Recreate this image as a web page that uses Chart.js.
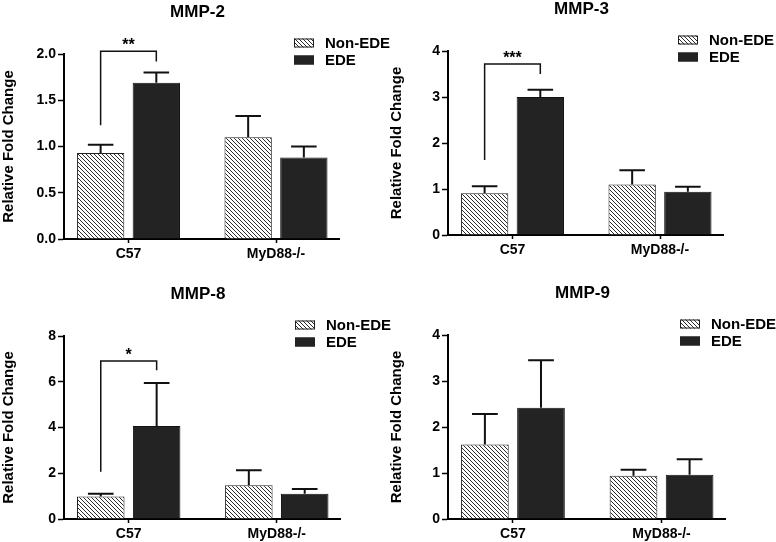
<!DOCTYPE html>
<html>
<head>
<meta charset="utf-8">
<title>MMP relative fold change</title>
<script src="https://cdn.jsdelivr.net/npm/chart.js@4/dist/chart.umd.min.js"></script>
<style>
  body { margin: 0; background: #fff; }
  #wrap { position: relative; width: 776px; height: 542px; background: #fff; }
  #wrap canvas { position: absolute; }
</style>
</head>
<body>
<div id="wrap">
  <canvas id="mmp2" width="392" height="270" style="left:0;top:0"></canvas>
  <canvas id="mmp3" width="388" height="270" style="left:388px;top:0"></canvas>
  <canvas id="mmp8" width="392" height="272" style="left:0;top:270px"></canvas>
  <canvas id="mmp9" width="388" height="272" style="left:388px;top:270px"></canvas>
</div>
<script>
// --- data ---
const groups = ["C57", "MyD88-/-"];
const seriesNames = ["Non-EDE", "EDE"];
const yTitle = "Relative Fold Change";

const mmp2NonEde = [0.93, 1.10];
const mmp2NonEdeErr = [0.09, 0.23];
const mmp2Ede = [1.69, 0.88];
const mmp2EdeErr = [0.11, 0.12];
const mmp2Ticks = [0, 0.5, 1.0, 1.5, 2.0];

const mmp3NonEde = [0.91, 1.10];
const mmp3NonEdeErr = [0.15, 0.31];
const mmp3Ede = [3.00, 0.94];
const mmp3EdeErr = [0.16, 0.11];
const mmp3Ticks = [0, 1, 2, 3, 4];

const mmp8NonEde = [0.98, 1.48];
const mmp8NonEdeErr = [0.12, 0.65];
const mmp8Ede = [4.07, 1.10];
const mmp8EdeErr = [1.88, 0.21];
const mmp8Ticks = [0, 2, 4, 6, 8];

const mmp9NonEde = [1.62, 0.94];
const mmp9NonEdeErr = [0.66, 0.13];
const mmp9Ede = [2.42, 0.96];
const mmp9EdeErr = [1.03, 0.34];
const mmp9Ticks = [0, 1, 2, 3, 4];

// significance brackets: [label, left leg start, top, right leg end] in y units
const mmp2Sig = ["**", 1.23, 2.03, 1.92];
const mmp3Sig = ["***", 1.63, 3.72, 3.50];
const mmp8Sig = ["*", 2.07, 6.91, 6.50];

const FONT = "'Liberation Sans', Arial, sans-serif";
Chart.defaults.font.family = FONT;
Chart.defaults.font.weight = "bold";
Chart.defaults.color = "#000";

function hatchPattern() {
  const c = document.createElement("canvas");
  c.width = 4; c.height = 4;
  const g = c.getContext("2d");
  g.fillStyle = "#fff";
  g.fillRect(0, 0, 4, 4);
  g.strokeStyle = "#2a2a2a";
  g.lineWidth = 1;
  g.beginPath();
  g.moveTo(-1, -1); g.lineTo(5, 5);
  g.moveTo(-1, 3); g.lineTo(1, 5);
  g.moveTo(3, -1); g.lineTo(5, 1);
  g.stroke();
  return g.createPattern(c, "repeat");
}

// error bars, bracket, legend and title
const extras = {
  id: "extras",
  afterDatasetsDraw(chart, args, opts) {
    const ctx = chart.ctx, ys = chart.scales.y, area = chart.chartArea;
    ctx.save();
    ctx.strokeStyle = "#111";
    ctx.lineWidth = 2;
    chart.data.datasets.forEach((ds, i) => {
      chart.getDatasetMeta(i).data.forEach((bar, j) => {
        const top = ys.getPixelForValue(ds.data[j].y + ds.errors[j]);
        const half = bar.width * 0.27;
        ctx.beginPath();
        ctx.moveTo(bar.x, bar.y);
        ctx.lineTo(bar.x, top);
        ctx.moveTo(bar.x - half, top);
        ctx.lineTo(bar.x + half, top);
        ctx.stroke();
      });
    });

    if (opts.sig) {
      const [label, from, topV, to] = opts.sig;
      const x1 = chart.getDatasetMeta(0).data[0].x;
      const x2 = chart.getDatasetMeta(1).data[0].x;
      const yTop = ys.getPixelForValue(topV);
      ctx.lineWidth = 1.5;
      ctx.beginPath();
      ctx.moveTo(x1, ys.getPixelForValue(from));
      ctx.lineTo(x1, yTop);
      ctx.lineTo(x2, yTop);
      ctx.lineTo(x2, ys.getPixelForValue(to));
      ctx.stroke();
      ctx.fillStyle = "#000";
      ctx.font = "bold 16px " + FONT;
      ctx.textAlign = "center";
      ctx.textBaseline = "alphabetic";
      ctx.fillText(label, (x1 + x2) / 2, yTop - 1);
    }

    // legend
    ctx.font = "bold 15px " + FONT;
    ctx.textAlign = "left";
    ctx.textBaseline = "middle";
    chart.data.datasets.forEach((ds, i) => {
      const sx = area.right - 45, sy = area.top - 11 + i * 17;
      ctx.fillStyle = ds.backgroundColor;
      ctx.fillRect(sx, sy - 4.5, 20, 9);
      ctx.lineWidth = 1;
      ctx.strokeStyle = "#222";
      ctx.strokeRect(sx + 0.5, sy - 4, 19, 8);
      ctx.fillStyle = "#000";
      ctx.fillText(ds.label, sx + 31, sy + 1);
    });

    // panel title
    ctx.font = "bold 17px " + FONT;
    ctx.textAlign = "center";
    ctx.fillText(opts.title, (area.left + area.right) / 2 - 4, area.top - 42);
    ctx.restore();
  }
};

function makePanel(id, title, nonEde, nonEdeErr, ede, edeErr, ticks, decimals, sig, box) {
  const canvas = document.getElementById(id);
  const W = canvas.width, H = canvas.height;
  const xAxisH = 24;
  const toPoints = (vals) => vals.map((v, i) => ({ x: i + 1, y: v }));
  new Chart(canvas, {
    type: "bar",
    data: {
      datasets: [
        { label: seriesNames[0], data: toPoints(nonEde), errors: nonEdeErr,
          backgroundColor: hatchPattern(), borderColor: "#222", borderWidth: 1 },
        { label: seriesNames[1], data: toPoints(ede), errors: edeErr,
          backgroundColor: "#232323", borderColor: "#111", borderWidth: 1 }
      ]
    },
    options: {
      responsive: false,
      animation: false,
      categoryPercentage: 0.755,
      barPercentage: 0.85,
      layout: { padding: { left: 0, top: box.top, right: W - box.right, bottom: H - box.bottom - xAxisH } },
      plugins: {
        legend: { display: false },
        tooltip: { enabled: false },
        extras: { title: title, sig: sig }
      },
      scales: {
        x: {
          type: "linear",
          offset: false,
          min: 0.563,
          max: 2.427,
          grid: { offset: false, drawOnChartArea: false, color: "#000", tickLength: 4, tickWidth: 1.5 },
          border: { color: "#000", width: 2 },
          afterBuildTicks: (s) => { s.ticks = groups.map((g, i) => ({ value: i + 1 })); },
          afterFit: (s) => { s.height = xAxisH; },
          ticks: { padding: 3, maxRotation: 0, font: { size: 14, weight: "bold" }, callback: (v) => groups[v - 1] }
        },
        y: {
          min: ticks[0],
          max: ticks[ticks.length - 1],
          grid: { drawOnChartArea: false, color: "#000", tickLength: 6, tickWidth: 1.5 },
          border: { color: "#000", width: 2 },
          afterBuildTicks: (s) => { s.ticks = ticks.map((v) => ({ value: v })); },
          afterFit: (s) => { s.width = box.left; },
          ticks: { padding: 2, font: { size: 14, weight: "bold" }, callback: (v) => v.toFixed(decimals) },
          title: { display: true, text: yTitle, padding: 0, font: { size: 15, weight: "bold" } }
        }
      }
    },
    plugins: [extras]
  });
}

makePanel("mmp2", "MMP-2", mmp2NonEde, mmp2NonEdeErr, mmp2Ede, mmp2EdeErr, mmp2Ticks, 1, mmp2Sig,
  { left: 64, right: 339, top: 54, bottom: 239 });
makePanel("mmp3", "MMP-3", mmp3NonEde, mmp3NonEdeErr, mmp3Ede, mmp3EdeErr, mmp3Ticks, 0, mmp3Sig,
  { left: 60, right: 335, top: 51, bottom: 235 });
makePanel("mmp8", "MMP-8", mmp8NonEde, mmp8NonEdeErr, mmp8Ede, mmp8EdeErr, mmp8Ticks, 0, mmp8Sig,
  { left: 64, right: 340, top: 66, bottom: 249 });
makePanel("mmp9", "MMP-9", mmp9NonEde, mmp9NonEdeErr, mmp9Ede, mmp9EdeErr, mmp9Ticks, 0, null,
  { left: 60, right: 337, top: 65, bottom: 249 });
</script>
</body>
</html>
